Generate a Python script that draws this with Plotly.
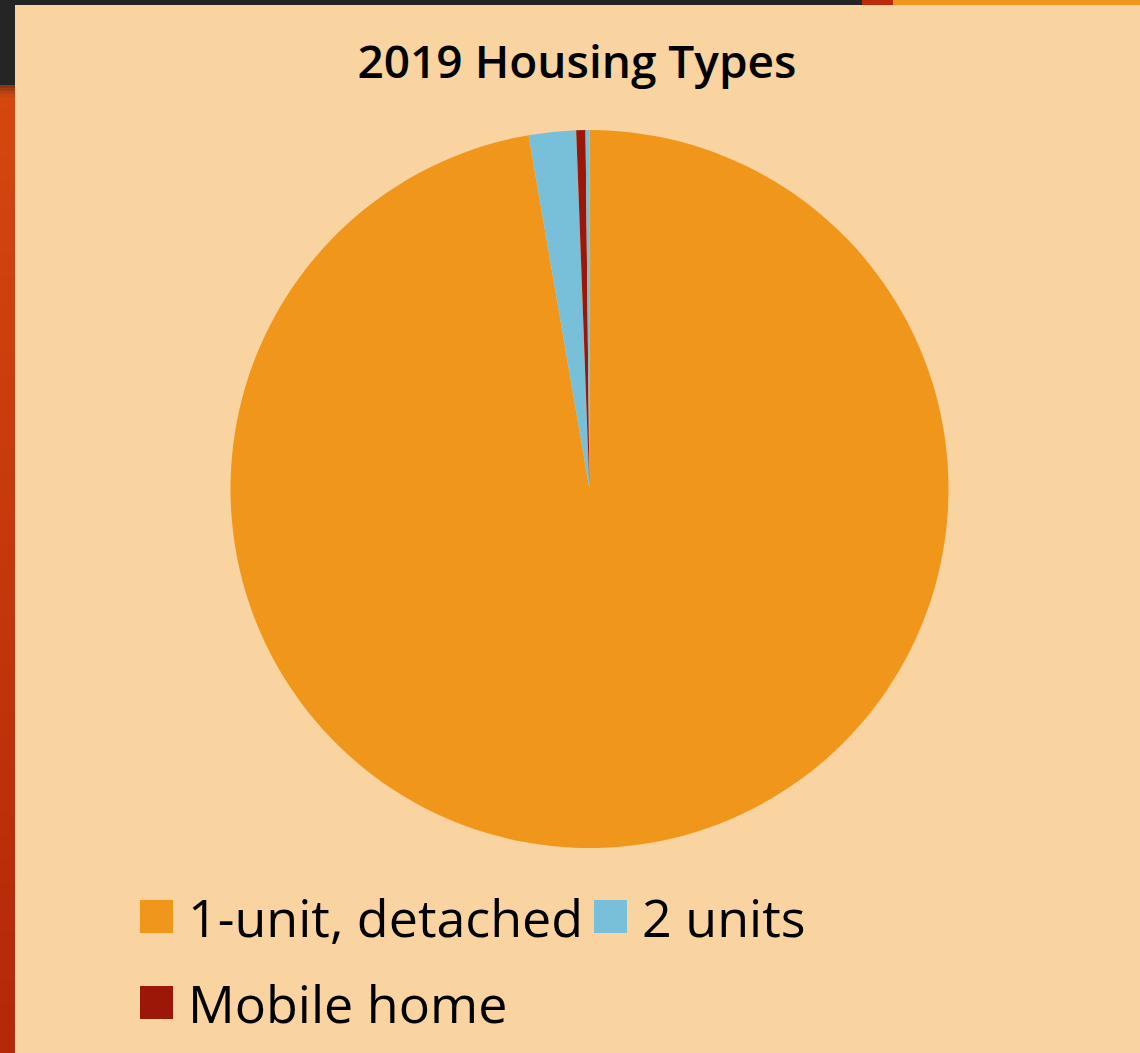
import plotly.graph_objects as go

W, H = 1140, 1053

# data
housing_types = ["1-unit, detached", "2 units", "Mobile home", "Other"]
unit_counts = [1648, 36, 7, 3]
slice_colors = ["#F0961A", "#78C0D9", "#9C1708", "#78C0D9"]
legend_types = ["1-unit, detached", "2 units", "Mobile home"]

PEACH = "#F9D3A0"


def px_x(x):
    return x / W


def px_y(y):
    return 1 - y / H


fig = go.Figure()

fig.add_trace(go.Pie(
    labels=housing_types,
    values=unit_counts,
    marker=dict(colors=slice_colors, line=dict(width=0)),
    sort=False,
    direction="clockwise",
    rotation=0,
    textinfo="none",
    hoverinfo="label+value+percent",
    showlegend=False,
    domain=dict(x=[px_x(230.5), px_x(948.5)], y=[px_y(848), px_y(130)]),
))

shapes = []
# slide decorations: top bar and left strip
shapes.append(dict(type="rect", xref="paper", yref="paper", x0=0, x1=px_x(862),
                   y0=px_y(5), y1=1, fillcolor="#252525", line_width=0, layer="below"))
shapes.append(dict(type="rect", xref="paper", yref="paper", x0=px_x(862), x1=px_x(893),
                   y0=px_y(5), y1=1, fillcolor="#BC2A08", line_width=0, layer="below"))
shapes.append(dict(type="rect", xref="paper", yref="paper", x0=px_x(893), x1=1,
                   y0=px_y(5), y1=1, fillcolor="#F0961A", line_width=0, layer="below"))
shapes.append(dict(type="rect", xref="paper", yref="paper", x0=0, x1=px_x(15),
                   y0=px_y(85), y1=1, fillcolor="#252525", line_width=0, layer="below"))

top_rgb = (0xD4, 0x48, 0x10)
bot_rgb = (0xB4, 0x29, 0x08)
n_bands = 40
band_h = (H - 85) / n_bands
for i in range(n_bands):
    t = i / (n_bands - 1)
    c = tuple(int(a + (b - a) * t) for a, b in zip(top_rgb, bot_rgb))
    y_top = 85 + i * band_h
    shapes.append(dict(type="rect", xref="paper", yref="paper", x0=0, x1=px_x(15),
                       y0=px_y(y_top + band_h + 1), y1=px_y(y_top),
                       fillcolor="rgb(%d,%d,%d)" % c, line_width=0, layer="below"))
# small shadow under the dark header
for k, col in enumerate(["#8E3212", "#A43C12", "#B84210", "#C84610"]):
    shapes.append(dict(type="rect", xref="paper", yref="paper", x0=0, x1=px_x(15),
                       y0=px_y(85 + 3 * (k + 1)), y1=px_y(85 + 3 * k),
                       fillcolor=col, line_width=0, layer="below"))

# legend drawn by hand (big square swatches like the original)
legend_pos = [(140, 916), (594, 916), (140, 1002)]
annotations = []
for name, (lx, ly) in zip(legend_types, legend_pos):
    color = slice_colors[housing_types.index(name)]
    shapes.append(dict(type="rect", xref="paper", yref="paper",
                       x0=px_x(lx), x1=px_x(lx + 33),
                       y0=px_y(ly + 17), y1=px_y(ly - 16),
                       fillcolor=color, line_width=0))
    annotations.append(dict(text=name, xref="paper", yref="paper",
                            x=px_x(lx + 46), y=px_y(ly), xanchor="left", yanchor="middle",
                            showarrow=False,
                            font=dict(family="Open Sans", size=52, color="#000000")))

fig.update_layout(
    width=W,
    height=H,
    margin=dict(l=0, r=0, t=0, b=0),
    paper_bgcolor=PEACH,
    plot_bgcolor=PEACH,
    title=dict(
        text="2019 Housing Types",
        x=px_x(577), xanchor="center",
        y=px_y(62), yanchor="middle",
        font=dict(family="Open Sans", size=46, weight=600, color="#000000"),
    ),
    shapes=shapes,
    annotations=annotations,
)

fig.write_html("out.html", config={"displayModeBar": False},
               post_script="document.body.style.margin = '0';")
